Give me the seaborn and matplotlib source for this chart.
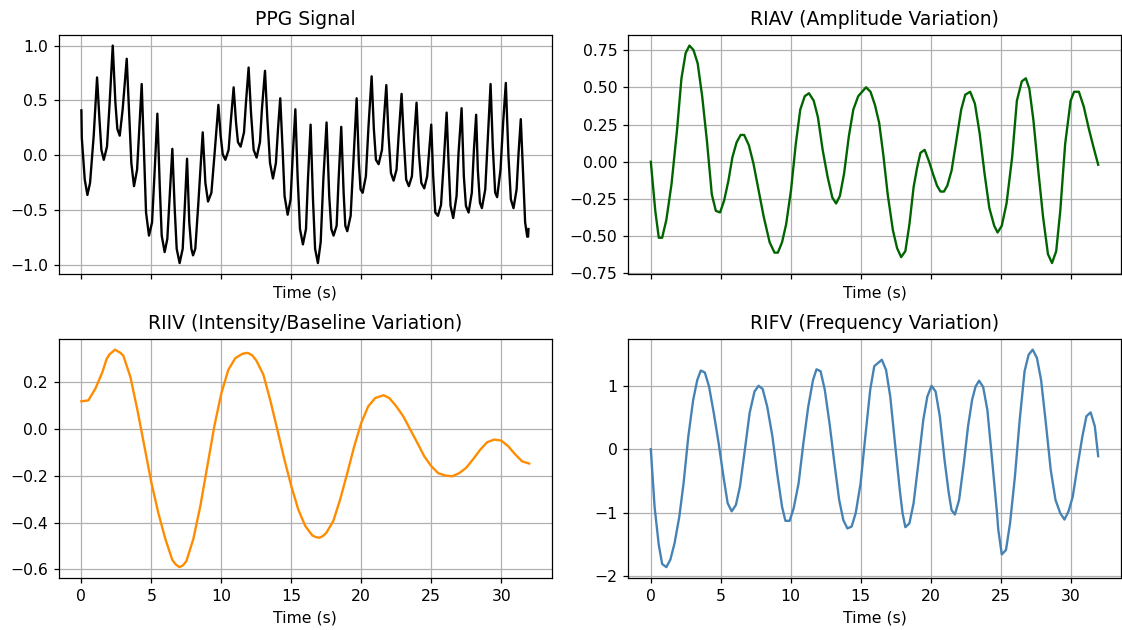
import numpy as np
import pandas as pd
import seaborn as sns
import matplotlib.pyplot as plt

# PPG (peaks, troughs and points on the edges)
ppg_t = [0.0, 0.03, 0.24, 0.43, 0.62, 0.88, 1.12,
         1.29, 1.43, 1.60, 1.83, 2.02, 2.24,
         2.43, 2.57, 2.74, 2.95, 3.24,
         3.43, 3.57, 3.76, 3.98, 4.14, 4.31,
         4.48, 4.62, 4.83, 5.05, 5.24, 5.43,
         5.60, 5.74, 5.95, 6.14, 6.31, 6.50,
         6.67, 6.81, 7.02, 7.24, 7.38, 7.55,
         7.71, 7.86, 7.98, 8.14, 8.35, 8.67,
         8.86, 9.05, 9.29, 9.52, 9.79,
         9.95, 10.10, 10.29, 10.52, 10.67, 10.88,
         11.05, 11.19, 11.38, 11.62, 11.76, 11.95,
         12.12, 12.31, 12.52, 12.76, 12.90, 13.12,
         13.29, 13.48, 13.69, 13.90, 14.05, 14.21,
         14.38, 14.52, 14.74, 14.95, 15.10, 15.29,
         15.45, 15.62, 15.83, 16.05, 16.19, 16.38,
         16.55, 16.70, 16.90, 17.10, 17.29, 17.52,
         17.71, 17.86, 18.02, 18.24, 18.38, 18.57,
         18.74, 18.86, 19.00, 19.24, 19.43, 19.67,
         19.83, 19.95, 20.10, 20.33, 20.52, 20.74,
         20.90, 21.05, 21.24, 21.48, 21.62, 21.79,
         21.95, 22.12, 22.31, 22.52, 22.67, 22.88,
         23.05, 23.21, 23.40, 23.62, 23.76, 23.95,
         24.12, 24.29, 24.50, 24.71, 24.86, 25.00,
         25.14, 25.29, 25.48, 25.70, 25.90, 26.10,
         26.24, 26.38, 26.57, 26.81, 26.95, 27.17,
         27.33, 27.48, 27.67, 27.90, 28.05, 28.21,
         28.33, 28.48, 28.62, 28.86, 29.05, 29.24,
         29.40, 29.57, 29.71, 29.95, 30.14, 30.33,
         30.52, 30.69, 30.88, 31.10, 31.24, 31.40,
         31.57, 31.71, 31.86, 31.92, 31.95]
ppg_v = [0.41, 0.16, -0.22, -0.36, -0.25, 0.18, 0.71,
         0.33, 0.05, -0.04, 0.08, 0.48, 1.00,
         0.48, 0.24, 0.18, 0.42, 0.88,
         0.33, -0.07, -0.28, -0.13, 0.24, 0.65,
         0.02, -0.52, -0.73, -0.61, -0.13, 0.38,
         -0.28, -0.73, -0.88, -0.76, -0.37, 0.06,
         -0.49, -0.85, -0.98, -0.85, -0.49, -0.03,
         -0.61, -0.85, -0.91, -0.85, -0.45, 0.21,
         -0.25, -0.42, -0.34, 0.02, 0.46,
         0.18, 0.01, -0.04, 0.05, 0.30, 0.62,
         0.30, 0.12, 0.08, 0.21, 0.48, 0.80,
         0.39, 0.05, -0.02, 0.12, 0.42, 0.77,
         0.33, -0.07, -0.21, -0.07, 0.24, 0.52,
         0.05, -0.37, -0.54, -0.40, -0.01, 0.42,
         -0.19, -0.67, -0.81, -0.67, -0.22, 0.28,
         -0.40, -0.85, -0.98, -0.79, -0.22, 0.30,
         -0.37, -0.67, -0.73, -0.64, -0.22, 0.26,
         -0.34, -0.64, -0.69, -0.55, -0.07, 0.52,
         -0.07, -0.31, -0.34, -0.19, 0.27, 0.72,
         0.24, -0.04, -0.08, 0.05, 0.33, 0.64,
         0.18, -0.16, -0.23, -0.13, 0.18, 0.56,
         0.12, -0.22, -0.28, -0.19, 0.12, 0.48,
         0.02, -0.25, -0.30, -0.19, 0.05, 0.28,
         -0.19, -0.52, -0.55, -0.45, -0.05, 0.39,
         -0.07, -0.46, -0.57, -0.37, 0.02, 0.43,
         -0.19, -0.46, -0.52, -0.34, 0.05, 0.37,
         -0.13, -0.43, -0.48, -0.31, 0.18, 0.65,
         0.08, -0.34, -0.38, -0.13, 0.30, 0.66,
         -0.01, -0.40, -0.48, -0.31, 0.02, 0.33,
         -0.19, -0.61, -0.74, -0.74, -0.67]

# RIAV
riav_t = [0.0, 0.32, 0.57, 0.81, 1.11, 1.48, 1.87, 2.19, 2.49, 2.76, 3.05, 3.35, 3.67, 4.01,
          4.36, 4.65, 4.95, 5.24, 5.54, 5.83, 6.13, 6.42, 6.67, 7.01, 7.33, 7.70, 8.07,
          8.49, 8.84, 9.08, 9.38, 9.67, 10.02, 10.36, 10.68, 11.00, 11.30, 11.64, 11.94,
          12.28, 12.63, 12.97, 13.24, 13.51, 13.81, 14.15, 14.47, 14.82, 15.38, 15.70,
          16.02, 16.32, 16.61, 16.93, 17.30, 17.60, 17.89, 18.19, 18.48, 18.78, 19.03,
          19.27, 19.57, 19.89, 20.16, 20.45, 20.70, 20.95, 21.19, 21.49, 21.83, 22.18,
          22.47, 22.82, 23.16, 23.50, 23.85, 24.19, 24.54, 24.78, 25.08, 25.42, 25.82,
          26.16, 26.51, 26.80, 27.05, 27.34, 27.69, 28.03, 28.38, 28.67, 28.97, 29.26,
          29.61, 30.00, 30.25, 30.59, 30.94, 31.28, 31.63, 31.97]
riav_v = [0.0, -0.33, -0.51, -0.51, -0.39, -0.15, 0.21, 0.56, 0.73, 0.78, 0.75, 0.66, 0.44, 0.14,
          -0.22, -0.33, -0.34, -0.26, -0.13, 0.03, 0.13, 0.18, 0.18, 0.11, -0.01, -0.19, -0.37,
          -0.54, -0.61, -0.61, -0.54, -0.42, -0.19, 0.12, 0.35, 0.44, 0.46, 0.41, 0.30,
          0.08, -0.10, -0.24, -0.28, -0.23, -0.08, 0.17, 0.35, 0.44, 0.50, 0.47,
          0.38, 0.26, 0.05, -0.22, -0.46, -0.58, -0.64, -0.60, -0.42, -0.17, -0.04,
          0.06, 0.08, 0.0, -0.08, -0.16, -0.20, -0.20, -0.16, -0.06, 0.14, 0.35,
          0.45, 0.47, 0.39, 0.19, -0.08, -0.31, -0.43, -0.475, -0.43, -0.28, 0.03,
          0.41, 0.54, 0.56, 0.49, 0.28, -0.06, -0.37, -0.62, -0.68, -0.60, -0.33,
          0.12, 0.41, 0.47, 0.47, 0.37, 0.23, 0.10, -0.02]

# RIIV
riiv_t = [0.0, 0.5, 1.0, 1.5, 1.8, 2.0, 2.4, 2.8, 3.0, 3.5, 4.0, 4.5, 5.0, 5.5, 6.0, 6.5, 6.75,
          7.0, 7.25, 7.5, 8.0, 8.5, 9.0, 9.5, 10.0, 10.5, 11.0, 11.5, 11.7, 11.9, 12.2, 12.5,
          13.0, 13.5, 14.0, 14.5, 15.0, 15.5, 16.0, 16.5, 16.75, 17.0, 17.25, 17.5, 18.0,
          18.5, 19.0, 19.5, 20.0, 20.5, 21.0, 21.6, 22.0, 22.5, 23.0, 23.5, 24.0, 24.5,
          25.0, 25.5, 26.0, 26.5, 27.0, 27.5, 28.0, 28.5, 29.0, 29.5, 30.0, 30.5, 31.0,
          31.5, 32.0]
riiv_v = [0.116, 0.12, 0.17, 0.24, 0.296, 0.315, 0.336, 0.322, 0.31, 0.22, 0.08, -0.075, -0.23,
          -0.36, -0.47, -0.56, -0.579, -0.59, -0.583, -0.565, -0.47, -0.33, -0.16, 0.01, 0.15,
          0.25, 0.30, 0.318, 0.321, 0.322, 0.312, 0.29, 0.23, 0.12, -0.004, -0.13, -0.245,
          -0.345, -0.415, -0.455, -0.462, -0.465, -0.458, -0.444, -0.394, -0.30, -0.19,
          -0.075, 0.024, 0.095, 0.13, 0.142, 0.13, 0.095, 0.052, -0.004, -0.06, -0.118,
          -0.16, -0.19, -0.20, -0.203, -0.19, -0.167, -0.13, -0.09, -0.058, -0.047, -0.051,
          -0.075, -0.11, -0.14, -0.149]

# RIFV
rifv_t = [0.0, 0.27, 0.57, 0.81, 1.11, 1.40, 1.70, 2.04, 2.34, 2.68, 3.03, 3.32, 3.57, 3.86,
          4.16, 4.50, 4.85, 5.19, 5.49, 5.78, 6.08, 6.37, 6.72, 7.06, 7.41, 7.70, 7.99,
          8.32, 8.69, 9.03, 9.38, 9.62, 9.92, 10.21, 10.56, 10.90, 11.25, 11.59, 11.84,
          12.13, 12.43, 12.77, 13.12, 13.46, 13.76, 14.05, 14.35, 14.64, 14.99, 15.33,
          15.68, 15.97, 16.51, 16.81, 17.11, 17.45, 17.79, 17.99, 18.19, 18.48, 18.78,
          19.12, 19.47, 19.76, 20.06, 20.35, 20.65, 20.99, 21.29, 21.49, 21.73, 22.03,
          22.37, 22.67, 22.96, 23.21, 23.46, 23.75, 24.05, 24.39, 24.74, 24.83, 25.08,
          25.38, 25.67, 26.02, 26.36, 26.71, 27.00, 27.29, 27.59, 27.89, 28.23, 28.58,
          28.92, 29.26, 29.56, 29.85, 30.15, 30.49, 30.84, 31.13, 31.43, 31.73, 31.97]
rifv_v = [0.0, -0.91, -1.51, -1.81, -1.86, -1.74, -1.48, -1.06, -0.54, 0.20, 0.78, 1.09, 1.24, 1.21,
          0.99, 0.57, 0.09, -0.43, -0.85, -0.98, -0.88, -0.59, -0.01, 0.57, 0.91, 1.00, 0.95,
          0.67, 0.20, -0.38, -0.91, -1.13, -1.13, -0.93, -0.54, 0.09, 0.67, 1.09, 1.26,
          1.23, 0.94, 0.41, -0.22, -0.80, -1.12, -1.25, -1.22, -1.01, -0.54, 0.20,
          0.94, 1.31, 1.41, 1.25, 0.83, 0.09, -0.64, -1.01, -1.23, -1.17, -0.85,
          -0.22, 0.46, 0.83, 1.00, 0.91, 0.52, -0.17, -0.69, -0.96, -1.03, -0.80,
          -0.22, 0.36, 0.78, 0.99, 1.08, 0.98, 0.62, -0.17, -1.01, -1.27, -1.66,
          -1.59, -1.17, -0.43, 0.46, 1.23, 1.49, 1.57, 1.44, 1.09, 0.41, -0.33,
          -0.80, -1.01, -1.11, -0.98, -0.75, -0.27, 0.20, 0.52, 0.58, 0.36, -0.11]

titles = ['PPG Signal', 'RIAV (Amplitude Variation)',
          'RIIV (Intensity/Baseline Variation)', 'RIFV (Frequency Variation)']
series = [(ppg_t, ppg_v), (riav_t, riav_v), (riiv_t, riiv_v), (rifv_t, rifv_v)]
colors = ['black', 'darkgreen', 'darkorange', 'steelblue']

fig, axes = plt.subplots(2, 2, figsize=(10, 5.615), dpi=112.2)

for i, ax in enumerate(axes.flat):
    t, v = series[i]
    df = pd.DataFrame({'t': t, 'v': v})
    sns.lineplot(x='t', y='v', data=df, ax=ax, color=colors[i], linewidth=1.5,
                 estimator=None, sort=False)
    ax.set_title(titles[i], fontsize=12)
    ax.set_xlabel('Time (s)')
    ax.set_ylabel('')
    ax.set_xlim(-1.6, 33.6)
    ax.set_xticks([0, 5, 10, 15, 20, 25, 30])
    ax.grid(True)
    if i < 2:
        ax.tick_params(axis='x', labelbottom=False)

plt.subplots_adjust(left=59/1122, right=1121/1122, top=1 - 34.7/630, bottom=1 - 578/630,
                    wspace=0.156, hspace=0.271)
plt.savefig('out.png', dpi=112.2)
